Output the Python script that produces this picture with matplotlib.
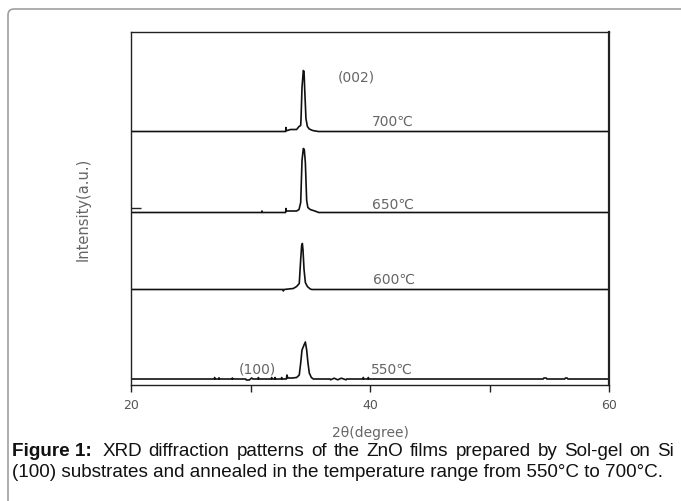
import matplotlib
matplotlib.use("Agg")
import matplotlib.pyplot as plt
from matplotlib.patches import FancyBboxPatch
from matplotlib.transforms import IdentityTransform

# ---------------- data ----------------
theta_550 = [20, 26.98, 27.0, 27.03, 27.33, 27.36, 27.39, 28.45, 28.48, 28.5,
             29.6, 29.65, 29.9, 30.0, 30.1, 30.2, 30.63, 30.66, 30.69, 31.74,
             31.77, 31.8, 32.02, 32.05, 32.08, 32.58, 32.61, 32.64, 33.0, 33.05,
             33.12, 33.5, 33.86, 34.08, 34.2, 34.31, 34.48, 34.59, 34.7, 34.81,
             34.92, 35.09, 35.26, 36.65, 36.7, 37.0, 37.3, 37.6, 38.0, 38.05,
             39.41, 39.44, 39.47, 39.83, 39.86, 39.89, 54.5, 54.55, 54.75, 54.8,
             56.3, 56.35, 56.5, 56.55, 60]
int_550 = [0, 0, 1.5, 0, 0, 1.2, 0, 0, 1, 0,
           0, -1, -1, 0, 1, 0, 0, 1.5, 0, 0,
           1.5, 0, 0, 1.5, 0, 0, 1.5, 0, 0, 4,
           1, 1, 1.5, 4, 16, 29, 34, 37, 29, 16,
           6, 1.5, 0, 0, -0.8, 0.8, -0.8, 0.8, -0.8, 0,
           0, 1.5, 0, 0, 1.5, 0, 0, 1, 1, 0,
           0, 1, 1, 0, 0]

theta_600 = [20, 32.72, 32.75, 32.8, 33.58, 33.86, 34.08, 34.2, 34.28, 34.34,
             34.39, 34.48, 34.59, 34.76, 34.98, 35.12, 60]
int_600 = [0, 0, -1.5, 0, 1, 3, 6, 30, 44, 46,
           40, 20, 7, 3, 0.7, 0, 0]

theta_650 = [20, 30.93, 30.96, 30.99, 32.94, 32.97, 33.0, 33.86, 34.06, 34.2,
             34.31, 34.42, 34.5, 34.59, 34.7, 34.8, 35.0, 35.5, 35.7, 60]
int_650 = [0, 0, 1.5, 0, 0, 4, 1.5, 1.5, 3, 10,
           52, 64, 63, 50, 12, 5, 3, 1, 0, 0]

theta_700 = [20, 32.94, 32.97, 33.0, 33.08, 33.36, 33.86, 34.06, 34.2, 34.23,
             34.31, 34.42, 34.48, 34.53, 34.64, 34.76, 34.92, 35.2, 35.68, 60]
int_700 = [0, 0, 4, 1, 1, 2, 2, 5, 6, 13,
           44, 61, 60, 44, 13, 5, 2.5, 1, 0, 0]

temps = ["550℃", "600℃", "650℃", "700℃"]
offsets = [5.5, 95, 172, 253]
x_ticks = [20, 40, 60]
x_minor = [30, 50]
x_label = "2θ(degree)"
y_label = "Intensity(a.u.)"
caption_bold = "Figure 1:"
caption_1 = "XRD diffraction patterns of the ZnO films prepared by Sol-gel on Si"
caption_2 = "(100) substrates and annealed in the temperature range from 550°C to 700°C."

W, H = 681, 502
fig = plt.figure(figsize=(W / 100, H / 100), dpi=100)

# outer rounded border
border = FancyBboxPatch((8, -60), 720, (H - 10) + 60,
                        boxstyle="round,pad=0,rounding_size=6",
                        transform=IdentityTransform(), facecolor="none",
                        edgecolor="#a0a0a0", linewidth=1.2)
fig.patches.append(border)

ax = fig.add_axes([131 / W, (H - 385.5) / H, (609 - 131) / W, (385.5 - 33) / H])
series = [(theta_550, int_550), (theta_600, int_600),
          (theta_650, int_650), (theta_700, int_700)]
for (t, v), off in zip(series, offsets):
    ax.plot(t, [off + iv for iv in v], color="#111111", lw=1.2)

ax.set_xlim(20, 60)
ax.set_ylim(0, 352.5)
ax.set_xticks(x_ticks)
ax.set_xticks(x_minor, minor=True)
ax.tick_params(axis="x", which="both", direction="out", length=5, width=1,
               colors="#222222", labelcolor="#555555", labelsize=9, pad=5)
ax.set_yticks([352.5 / 2])
ax.set_yticklabels([])
ax.tick_params(axis="y", direction="in", length=7, width=1, colors="#222222")
for s in ax.spines.values():
    s.set_linewidth(1.0)
    s.set_color("#222222")
ax.spines["right"].set_linewidth(1.6)

tc = "#666666"
ax.set_xlabel(x_label, fontsize=10, color=tc, labelpad=10)
ax.set_ylabel(y_label, fontsize=10.5, color=tc)
ax.yaxis.set_label_coords(-(131 - 91) / (609 - 131), 0.5)

label_x = [41.8, 42.05, 41.9, 41.88]
label_y = [15.5, 105.5, 180.5, 263.8]
for txt, lx, ly in zip(temps, label_x, label_y):
    ax.text(lx, ly, txt, fontsize=10, color=tc, ha="center", va="center")
ax.text(38.83, 307.5, "(002)", fontsize=10, color=tc, ha="center", va="center")
ax.text(30.54, 15.5, "(100)", fontsize=10, color=tc, ha="center", va="center")

# caption (first line justified to the full width, as in the reference)
cf = "Liberation Sans"
cs = 13.6
x0 = 12
x_end = 674
y1 = (H - 452) / H
y2 = (H - 473) / H
tb = fig.text(x0 / W, y1, caption_bold, fontsize=cs, fontweight="bold",
              family=cf, va="center", ha="left", color="#111111")
fig.canvas.draw()
r = fig.canvas.get_renderer()
bx = tb.get_window_extent(r).x1
words = caption_1.split(" ")
tw = []
for wd in words:
    t = fig.text(0, 0, wd, fontsize=cs, family=cf)
    tw.append(t.get_window_extent(r).width)
    t.remove()
sp = fig.text(0, 0, "a a", fontsize=cs, family=cf)
spw = sp.get_window_extent(r).width
sp.remove()
sp2 = fig.text(0, 0, "aa", fontsize=cs, family=cf)
spw -= sp2.get_window_extent(r).width
sp2.remove()
xs = bx + 2 * spw
gap = (x_end - xs - sum(tw)) / (len(words) - 1)
for wd, wpx in zip(words, tw):
    fig.text(xs / W, y1, wd, fontsize=cs, family=cf, va="center", ha="left",
             color="#111111")
    xs += wpx + gap
fig.text(x0 / W, y2, caption_2, fontsize=cs, family=cf,
         va="center", ha="left", color="#111111")

fig.savefig("out.png", dpi=100)
